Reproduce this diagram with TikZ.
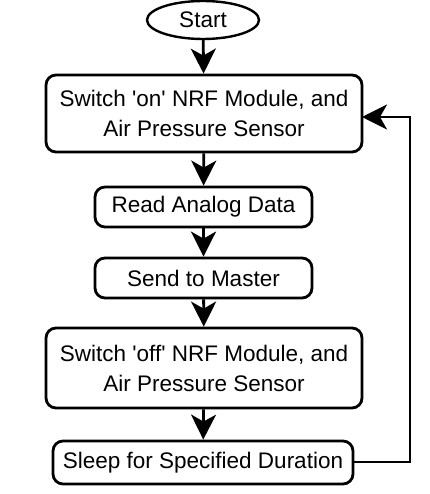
\documentclass[tikz,border=0pt]{standalone}
\usepackage{fontspec}
\setmainfont{Liberation Sans}
\usetikzlibrary{arrows.meta,shapes.geometric}
\begin{document}
\begin{tikzpicture}[x=1pt,y=-1pt,
  proc/.style={draw, line width=2.8pt, rounded corners=10pt, align=center, inner sep=0pt,
    font=\fontsize{22.5}{30}\selectfont},
  flow/.style={line width=2.8pt, -{Stealth[length=25pt,width=25pt,inset=7pt]}}]
\useasboundingbox (0,0) rectangle (429,494);
\node[draw, ellipse, line width=2.4pt, minimum width=112pt, minimum height=38pt, inner sep=0pt,
  font=\fontsize{22.5}{26}\selectfont] (start) at (203,20) {Start};
\node[proc, minimum width=316pt, minimum height=77pt] (b1) at (204,113.5) {Switch \textquotesingle on\textquotesingle{} NRF Module, and\\Air Pressure Sensor};
\node[proc, minimum width=217pt, minimum height=40pt] (b2) at (203.5,207) {Read Analog Data};
\node[proc, minimum width=217pt, minimum height=40pt] (b3) at (203.5,278) {Send to Master};
\node[proc, minimum width=316pt, minimum height=80pt] (b4) at (204,368) {Switch \textquotesingle off\textquotesingle{} NRF Module, and\\Air Pressure Sensor};
\node[proc, minimum width=300pt, minimum height=43pt] (b5) at (203,462.5) {Sleep for Specified Duration};
\coordinate (c1) at (410,462);
\coordinate (c2) at (410,117);
\coordinate (t1) at (362,117);
\draw[flow] (start) -- (b1);
\draw[flow] (b1) -- (b2);
\draw[flow] (b2) -- (b3);
\draw[flow] (b3) -- (b4);
\draw[flow] (b4) -- (b5);
\draw[flow] (b5.east |- c1) -- (c1) -- (c2) -- (t1);
\end{tikzpicture}
\end{document}
